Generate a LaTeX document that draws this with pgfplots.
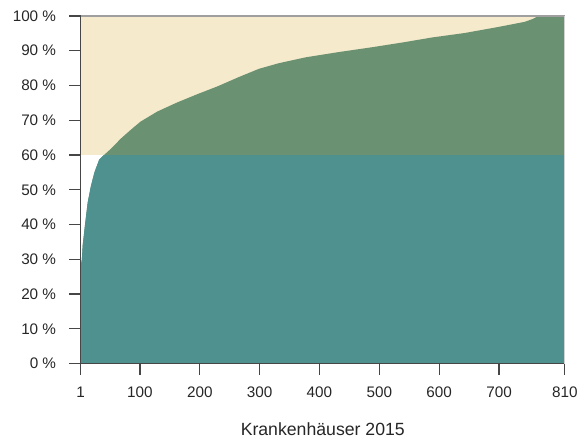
\documentclass[border=0pt]{standalone}
\usepackage{pgfplots}
\pgfplotsset{compat=1.18}
\usetikzlibrary{calc}
\usepackage{fontspec}
\setmainfont{Liberation Sans}
\definecolor{beige}{RGB}{245,234,203}
\definecolor{sage}{RGB}{106,146,114}
\definecolor{tealc}{RGB}{79,145,143}
\definecolor{axc}{RGB}{70,70,70}
\begin{document}
\begin{tikzpicture}[x=0.75pt,y=0.75pt]
\begin{axis}[
  name=ax,
  scale only axis,
  width=364.5pt, height=261.75pt,
  xmin=1, xmax=810, ymin=0, ymax=100,
  axis x line*=bottom, axis y line*=left,
  axis line style={axc, line width=0.9pt},
  xtick={1,100,200,300,400,500,600,700,810},
  ytick={0,10,20,30,40,50,60,70,80,90,100},
  yticklabels={0 \%,10 \%,20 \%,30 \%,40 \%,50 \%,60 \%,70 \%,80 \%,90 \%,100 \%},
  tick style={axc, line width=0.9pt},
  tick align=outside,
  major tick length=8.5pt,
  /pgf/number format/assume math mode=true,
  /pgf/number format/1000 sep={},
  xticklabel style={font=\fontsize{11.5}{13}\selectfont, text=black!85, yshift=-5.5pt},
  yticklabel style={font=\fontsize{11.5}{13}\selectfont, text=black!85, xshift=-6.5pt},
  xlabel={Krankenhäuser 2015},
  xlabel style={font=\fontsize{13.3}{15}\selectfont, text=black!85, yshift=-12pt},
  clip=true,
  axis on top,
]
% beige background above 60 %
\addplot[draw=none, fill=beige] coordinates {(1,100) (810,100)} \closedcycle;
\addplot[draw=none, fill=white] coordinates {(1,60) (810,60)} \closedcycle;
% share curve (hospitals sorted by share)
\addplot[draw=none, fill=sage] coordinates {
(1,28) (3,30) (4.3,33.9) (8,39.6) (12.7,46.3) (18,51) (24,55) (32,58.7) (40,60)
(51.5,61.8) (68,64.7) (85,67.3) (101,69.6) (129,72.5) (162,75.1) (196,77.5)
(229,79.7) (265,82.4) (299,84.8) (332,86.4) (377,88.1) (432,89.6) (488,91.0)
(540,92.4) (588,93.8) (643,95.1) (698,96.8) (743,98.3) (756,99.1) (766,100) (810,100)} \closedcycle;
% part up to 60 %
\addplot[draw=none, fill=tealc] coordinates {
(1,28) (3,30) (4.3,33.9) (8,39.6) (12.7,46.3) (18,51) (24,55) (32,58.7) (40,60)
(810,60)} \closedcycle;
\end{axis}
\draw[gray!75, line width=1.2pt] (ax.north west) -- (ax.north east);
\draw[gray!35, line width=0.6pt] (ax.north east) -- (ax.south east);
\path (ax.south west) ++(-81,-75) rectangle ($(ax.north east)+(15,16)$);
\end{tikzpicture}
\end{document}
